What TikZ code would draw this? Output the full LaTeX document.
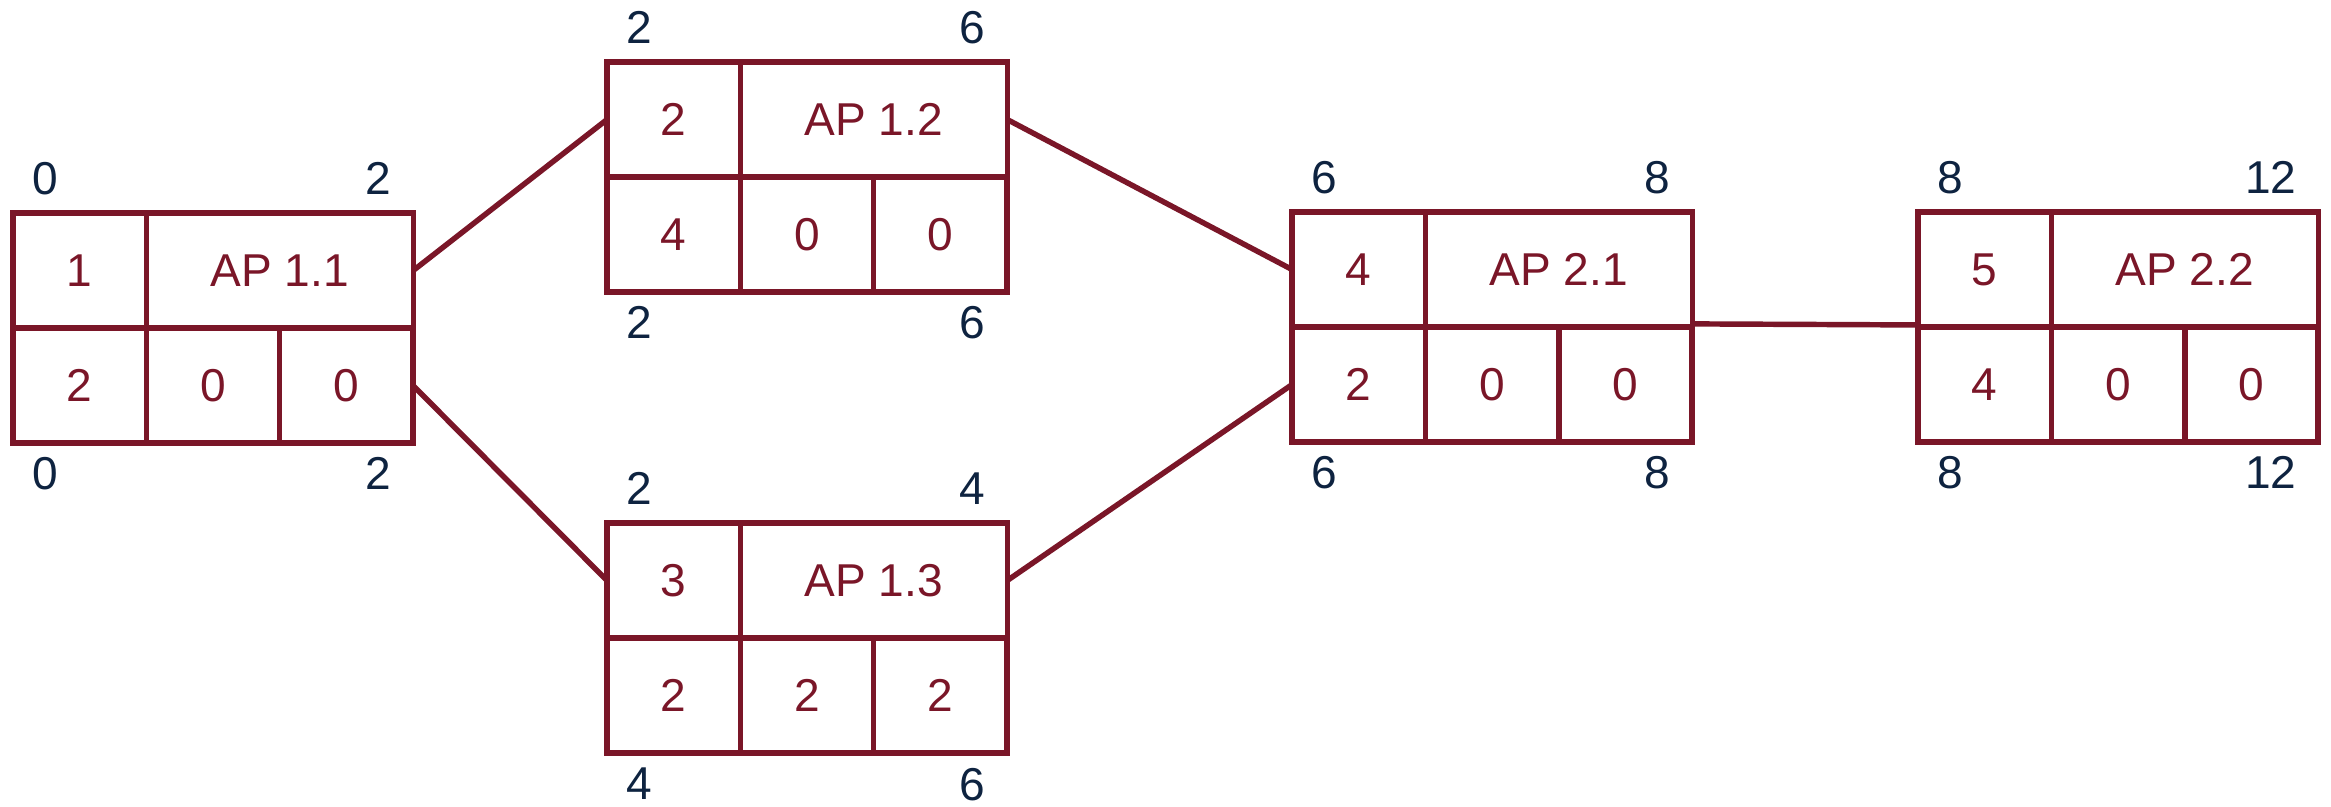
\documentclass[tikz,border=0pt]{standalone}
\usepackage{fontspec}
\setmainfont{Liberation Sans}
\usetikzlibrary{positioning}

\definecolor{apred}{RGB}{122,22,40}
\definecolor{apnavy}{RGB}{14,35,64}

\tikzset{
  cell/.style={draw=apred, text=apred, line width=1.55pt,
    minimum width=1.333cm, minimum height=1.15cm, inner sep=0pt, outer sep=0pt},
  titlecell/.style={cell, minimum width=2.667cm},
  timelabel/.style={text=apnavy, inner sep=0pt},
  link/.style={draw=apred, line width=1.55pt},
}

% work package box: name, corner, number, title, duration, total float, free float
\newcommand{\apbox}[7]{%
  \node[cell, anchor=north west] (#1nr) at #2 {#3};
  \node[titlecell, right=0pt of #1nr] (#1ti) {#4};
  \node[cell, below=0pt of #1nr] (#1du) {#5};
  \node[cell, right=0pt of #1du] (#1gp) {#6};
  \node[cell, right=0pt of #1gp] (#1fp) {#7};
}
% earliest start/end above, latest start/end below
\newcommand{\aptimes}[5]{%
  \node[timelabel, anchor=base west] (#1es) at ([shift={(19,18)}]#1nr.north west) {#2};
  \node[timelabel, anchor=base east] (#1ef) at ([shift={(-21,18)}]#1ti.north east) {#3};
  \node[timelabel, anchor=north west] (#1ls) at ([shift={(19,-14)}]#1du.south west) {#4};
  \node[timelabel, anchor=north east] (#1lf) at ([shift={(-21,-14)}]#1fp.south east) {#5};
}

\begin{document}
\begin{tikzpicture}[x=0.01cm, y=0.01cm, font=\fontsize{13.1}{15}\selectfont]
  \useasboundingbox (0,0) rectangle (2331,806);

  \apbox{a11}{(13,593)}{1}{AP 1.1}{2}{0}{0}
  \apbox{a12}{(607,744)}{2}{AP 1.2}{4}{0}{0}
  \apbox{a13}{(607,283)}{3}{AP 1.3}{2}{2}{2}
  \apbox{a21}{(1292,594)}{4}{AP 2.1}{2}{0}{0}
  \apbox{a22}{(1918,594)}{5}{AP 2.2}{4}{0}{0}

  \aptimes{a11}{0}{2}{0}{2}
  \aptimes{a12}{2}{6}{2}{6}
  \aptimes{a13}{2}{4}{4}{6}
  \aptimes{a21}{6}{8}{6}{8}
  \aptimes{a22}{8}{12}{8}{12}

  % dependencies
  \draw[link] (a11ti.east) -- (a12nr.west);
  \draw[link] (a11fp.east) -- (a13nr.west);
  \draw[link] (a12ti.east) -- (a21nr.west);
  \draw[link] (a13ti.east) -- (a21du.west);
  \draw[link] ([yshift=0.9pt]a21ti.south east) -- ([yshift=0.6pt]a22nr.south west);
\end{tikzpicture}
\end{document}
